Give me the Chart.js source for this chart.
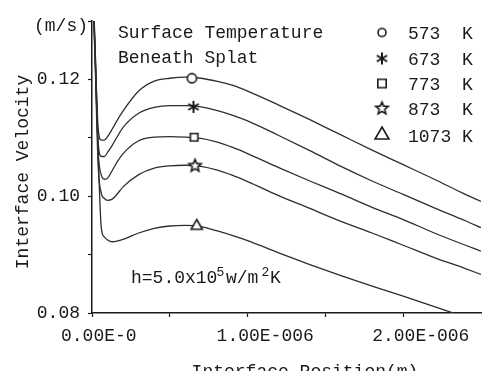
<!DOCTYPE html>
<html>
<head>
<meta charset="utf-8">
<script src="https://cdn.jsdelivr.net/npm/chart.js@4/dist/chart.umd.min.js"></script>
<style>
  html, body { margin: 0; padding: 0; background: #fff; }
  #wrap { width: 487px; height: 371px; }
</style>
</head>
<body>
<div id="wrap"><canvas id="chart"></canvas></div>
<script>
// Interface position (m), shared by every curve
const positions = [0, 0.02e-6, 0.04e-6, 0.06e-6, 0.08e-6, 0.1e-6, 0.13e-6, 0.16e-6, 0.2e-6,
  0.3e-6, 0.4e-6, 0.5e-6, 0.6e-6, 0.7e-6, 0.8e-6, 0.9e-6, 1.0e-6, 1.2e-6, 1.4e-6,
  1.6e-6, 1.8e-6, 2.0e-6, 2.2e-6, 2.4e-6, 2.5e-6];

// Interface velocity (m/s) per surface temperature
const v573 = [0.140, 0.125, 0.1115, 0.1096, 0.1096, 0.1102, 0.1115, 0.1129, 0.1146,
  0.1180, 0.1197, 0.1202, 0.1204, 0.1202, 0.1197, 0.1190, 0.1180, 0.1156, 0.1131,
  0.1105, 0.1079, 0.1054, 0.1029, 0.1003, 0.0991];
const v673 = [0.140, 0.124, 0.1090, 0.1068, 0.1068, 0.1075, 0.1087, 0.1101, 0.1118,
  0.1142, 0.1152, 0.1155, 0.1155, 0.1153, 0.1147, 0.1139, 0.1129, 0.1104, 0.1078,
  0.1051, 0.1026, 0.1003, 0.0980, 0.0958, 0.0946];
const v773 = [0.140, 0.124, 0.1075, 0.1036, 0.1029, 0.1031, 0.1044, 0.1058, 0.1073,
  0.1095, 0.1101, 0.1102, 0.1101, 0.1099, 0.1093, 0.1084, 0.1073, 0.1049, 0.1026,
  0.1004, 0.0981, 0.0960, 0.0937, 0.0916, 0.0906];
const v873 = [0.140, 0.123, 0.1050, 0.1005, 0.0996, 0.0993, 0.0995, 0.1003, 0.1016,
  0.1037, 0.1048, 0.1052, 0.1053, 0.1051, 0.1045, 0.1036, 0.1025, 0.1001, 0.0979,
  0.0957, 0.0937, 0.0916, 0.0895, 0.0876, 0.0866];
const v1073 = [0.140, 0.126, 0.1070, 0.0945, 0.0930, 0.0925, 0.0922, 0.0923, 0.0926,
  0.0937, 0.0945, 0.0949, 0.0950, 0.0948, 0.0941, 0.0933, 0.0924, 0.0903, 0.0883,
  0.0864, 0.0846, 0.0829, 0.0811, 0.0793, 0.0784];

const temps = ['573', '673', '773', '873', '1073'];
const series = [v573, v673, v773, v873, v1073];

// where each symbol sits on its curve
const markerPos = [0.642e-6, 0.652e-6, 0.656e-6, 0.662e-6, 0.673e-6];
const markerVel = [0.1202, 0.1153, 0.1101, 0.1052, 0.0949];

const xTickValues = [0, 0.5e-6, 1.0e-6, 1.5e-6, 2.0e-6];
const xTickLabels = ['0.00E-0', '', '1.00E-006', '', '2.00E-006'];
const yTickValues = [0.08, 0.10, 0.12];
const yTickLabels = ['0.08', '0.10', '0.12'];

const FONT = 'Liberation Mono';
const INK = '#1a1a1a';
const LINE = '#2e2e2e';

// hollow symbols drawn once on small canvases, used as point styles
function makeMarker(kind, r, lw) {
  const s = Math.ceil(r * 2 + lw * 2 + 2);
  const c = document.createElement('canvas');
  c.width = s; c.height = s;
  const g = c.getContext('2d');
  const cx = s / 2, cy = s / 2;
  g.lineWidth = lw;
  g.strokeStyle = INK;
  g.fillStyle = '#fff';
  g.beginPath();
  if (kind === 'circle') {
    g.arc(cx, cy, r, 0, Math.PI * 2);
  } else if (kind === 'square') {
    g.rect(cx - r, cy - r, 2 * r, 2 * r);
  } else if (kind === 'triangle') {
    g.moveTo(cx, cy - r);
    g.lineTo(cx + r * 0.866, cy + r * 0.5);
    g.lineTo(cx - r * 0.866, cy + r * 0.5);
    g.closePath();
  } else if (kind === 'star') {
    for (let i = 0; i < 10; i++) {
      const a = -Math.PI / 2 + i * Math.PI / 5;
      const rr = i % 2 ? r * 0.45 : r;
      const px = cx + rr * Math.cos(a), py = cy + rr * Math.sin(a);
      if (i) g.lineTo(px, py); else g.moveTo(px, py);
    }
    g.closePath();
  }
  if (kind === 'asterisk') {
    for (let i = 0; i < 3; i++) {
      const a = Math.PI / 2 + i * Math.PI / 3;
      g.moveTo(cx + r * Math.cos(a), cy + r * Math.sin(a));
      g.lineTo(cx - r * Math.cos(a), cy - r * Math.sin(a));
    }
    g.stroke();
  } else {
    g.fill();
    g.stroke();
  }
  return c;
}

const kinds = ['circle', 'asterisk', 'square', 'star', 'triangle'];
const plotSizes = [4.6, 6, 3.8, 6.5, 6.5];
const legendSizes = [4, 6, 4.2, 6.5, 8];
const plotMarkers = kinds.map((k, i) => makeMarker(k, plotSizes[i], k === 'asterisk' ? 2 : 1.6));
const legendMarkers = kinds.map((k, i) => makeMarker(k, legendSizes[i], k === 'asterisk' ? 2 : 1.6));

const lineSets = series.map(vals => ({
  data: positions.map((x, j) => ({ x, y: vals[j] })),
  showLine: true,
  borderColor: LINE,
  borderWidth: 1.3,
  pointRadius: 0,
  cubicInterpolationMode: 'monotone',
  order: 1,
}));

const markerSets = temps.map((t, i) => ({
  data: [{ x: markerPos[i], y: markerVel[i] }],
  showLine: false,
  pointStyle: plotMarkers[i],
  pointRadius: 5,
  order: 0,
}));

// free text: notes, legend, units and axis titles
const textPlugin = {
  id: 'texts',
  afterDraw(chart) {
    const ctx = chart.ctx;
    ctx.save();
    ctx.fillStyle = INK;
    ctx.font = `18px "${FONT}"`;
    ctx.textBaseline = 'alphabetic';

    ctx.textAlign = 'left';
    ctx.fillText('Surface Temperature', 118, 38);
    ctx.fillText('Beneath Splat', 118, 63);

    ctx.textAlign = 'right';
    ctx.fillText('(m/s)', 88, 31);

    // legend
    const rowBase = [39, 65, 90, 115, 141.5];
    ctx.textAlign = 'left';
    temps.forEach((t, i) => {
      const m = legendMarkers[i];
      ctx.drawImage(m, 382 - m.width / 2, rowBase[i] - 6.5 - m.height / 2);
      ctx.fillText(t, 408, rowBase[i]);
      ctx.fillText('K', 462, rowBase[i]);
    });

    // h=5.0x10^5 w/m^2K
    ctx.fillText('h=5.0x10', 131, 283);
    ctx.fillText('w/m', 226, 283);
    ctx.fillText('K', 270, 283);
    ctx.font = `13px "${FONT}"`;
    ctx.fillText('5', 216.5, 276);
    ctx.fillText('2', 261.5, 276);

    // axis titles
    ctx.font = `18px "${FONT}"`;
    ctx.textAlign = 'center';
    ctx.fillText('Interface Position(m)', 305, 377);
    ctx.translate(28, 172);
    ctx.rotate(-Math.PI / 2);
    ctx.fillText('Interface Velocity', 0, 0);
    ctx.restore();
  },
};

new Chart(document.getElementById('chart'), {
  type: 'scatter',
  data: { datasets: [...lineSets, ...markerSets] },
  options: {
    responsive: true,
    maintainAspectRatio: false,
    animation: false,
    events: [],
    layout: { padding: { top: 21, left: 0, right: 0, bottom: 0 } },
    plugins: { legend: { display: false }, tooltip: { enabled: false } },
    scales: {
      x: {
        type: 'linear',
        min: 0,
        max: 2.5e-6,
        afterBuildTicks: s => { s.ticks = xTickValues.map(v => ({ value: v })); },
        afterFit: s => { s.height = 58; s.paddingLeft = 0; s.paddingRight = 0; },
        border: { display: true, color: INK, width: 1.5 },
        grid: { drawOnChartArea: false, drawTicks: true, tickLength: 4, tickColor: INK, tickWidth: 1.2 },
        ticks: {
          autoSkip: false, maxRotation: 0, align: 'start', labelOffset: -31, padding: 8,
          color: INK, font: { family: FONT, size: 18 },
          callback: (v, i) => xTickLabels[i],
        },
      },
      y: {
        type: 'linear',
        min: 0.08,
        max: 0.13,
        afterFit: s => { s.width = 92; s.paddingTop = 0; s.paddingBottom = 0; },
        border: { display: true, color: INK, width: 1.5 },
        grid: { drawOnChartArea: false, drawTicks: true, tickLength: 4, tickColor: INK, tickWidth: 1.2 },
        ticks: {
          stepSize: 0.01, autoSkip: false, padding: 8,
          color: INK, font: { family: FONT, size: 18 },
          callback: v => {
            const k = yTickValues.findIndex(t => Math.abs(t - v) < 1e-9);
            return k < 0 ? '' : yTickLabels[k];
          },
        },
      },
    },
  },
  plugins: [textPlugin],
});
</script>
</body>
</html>
